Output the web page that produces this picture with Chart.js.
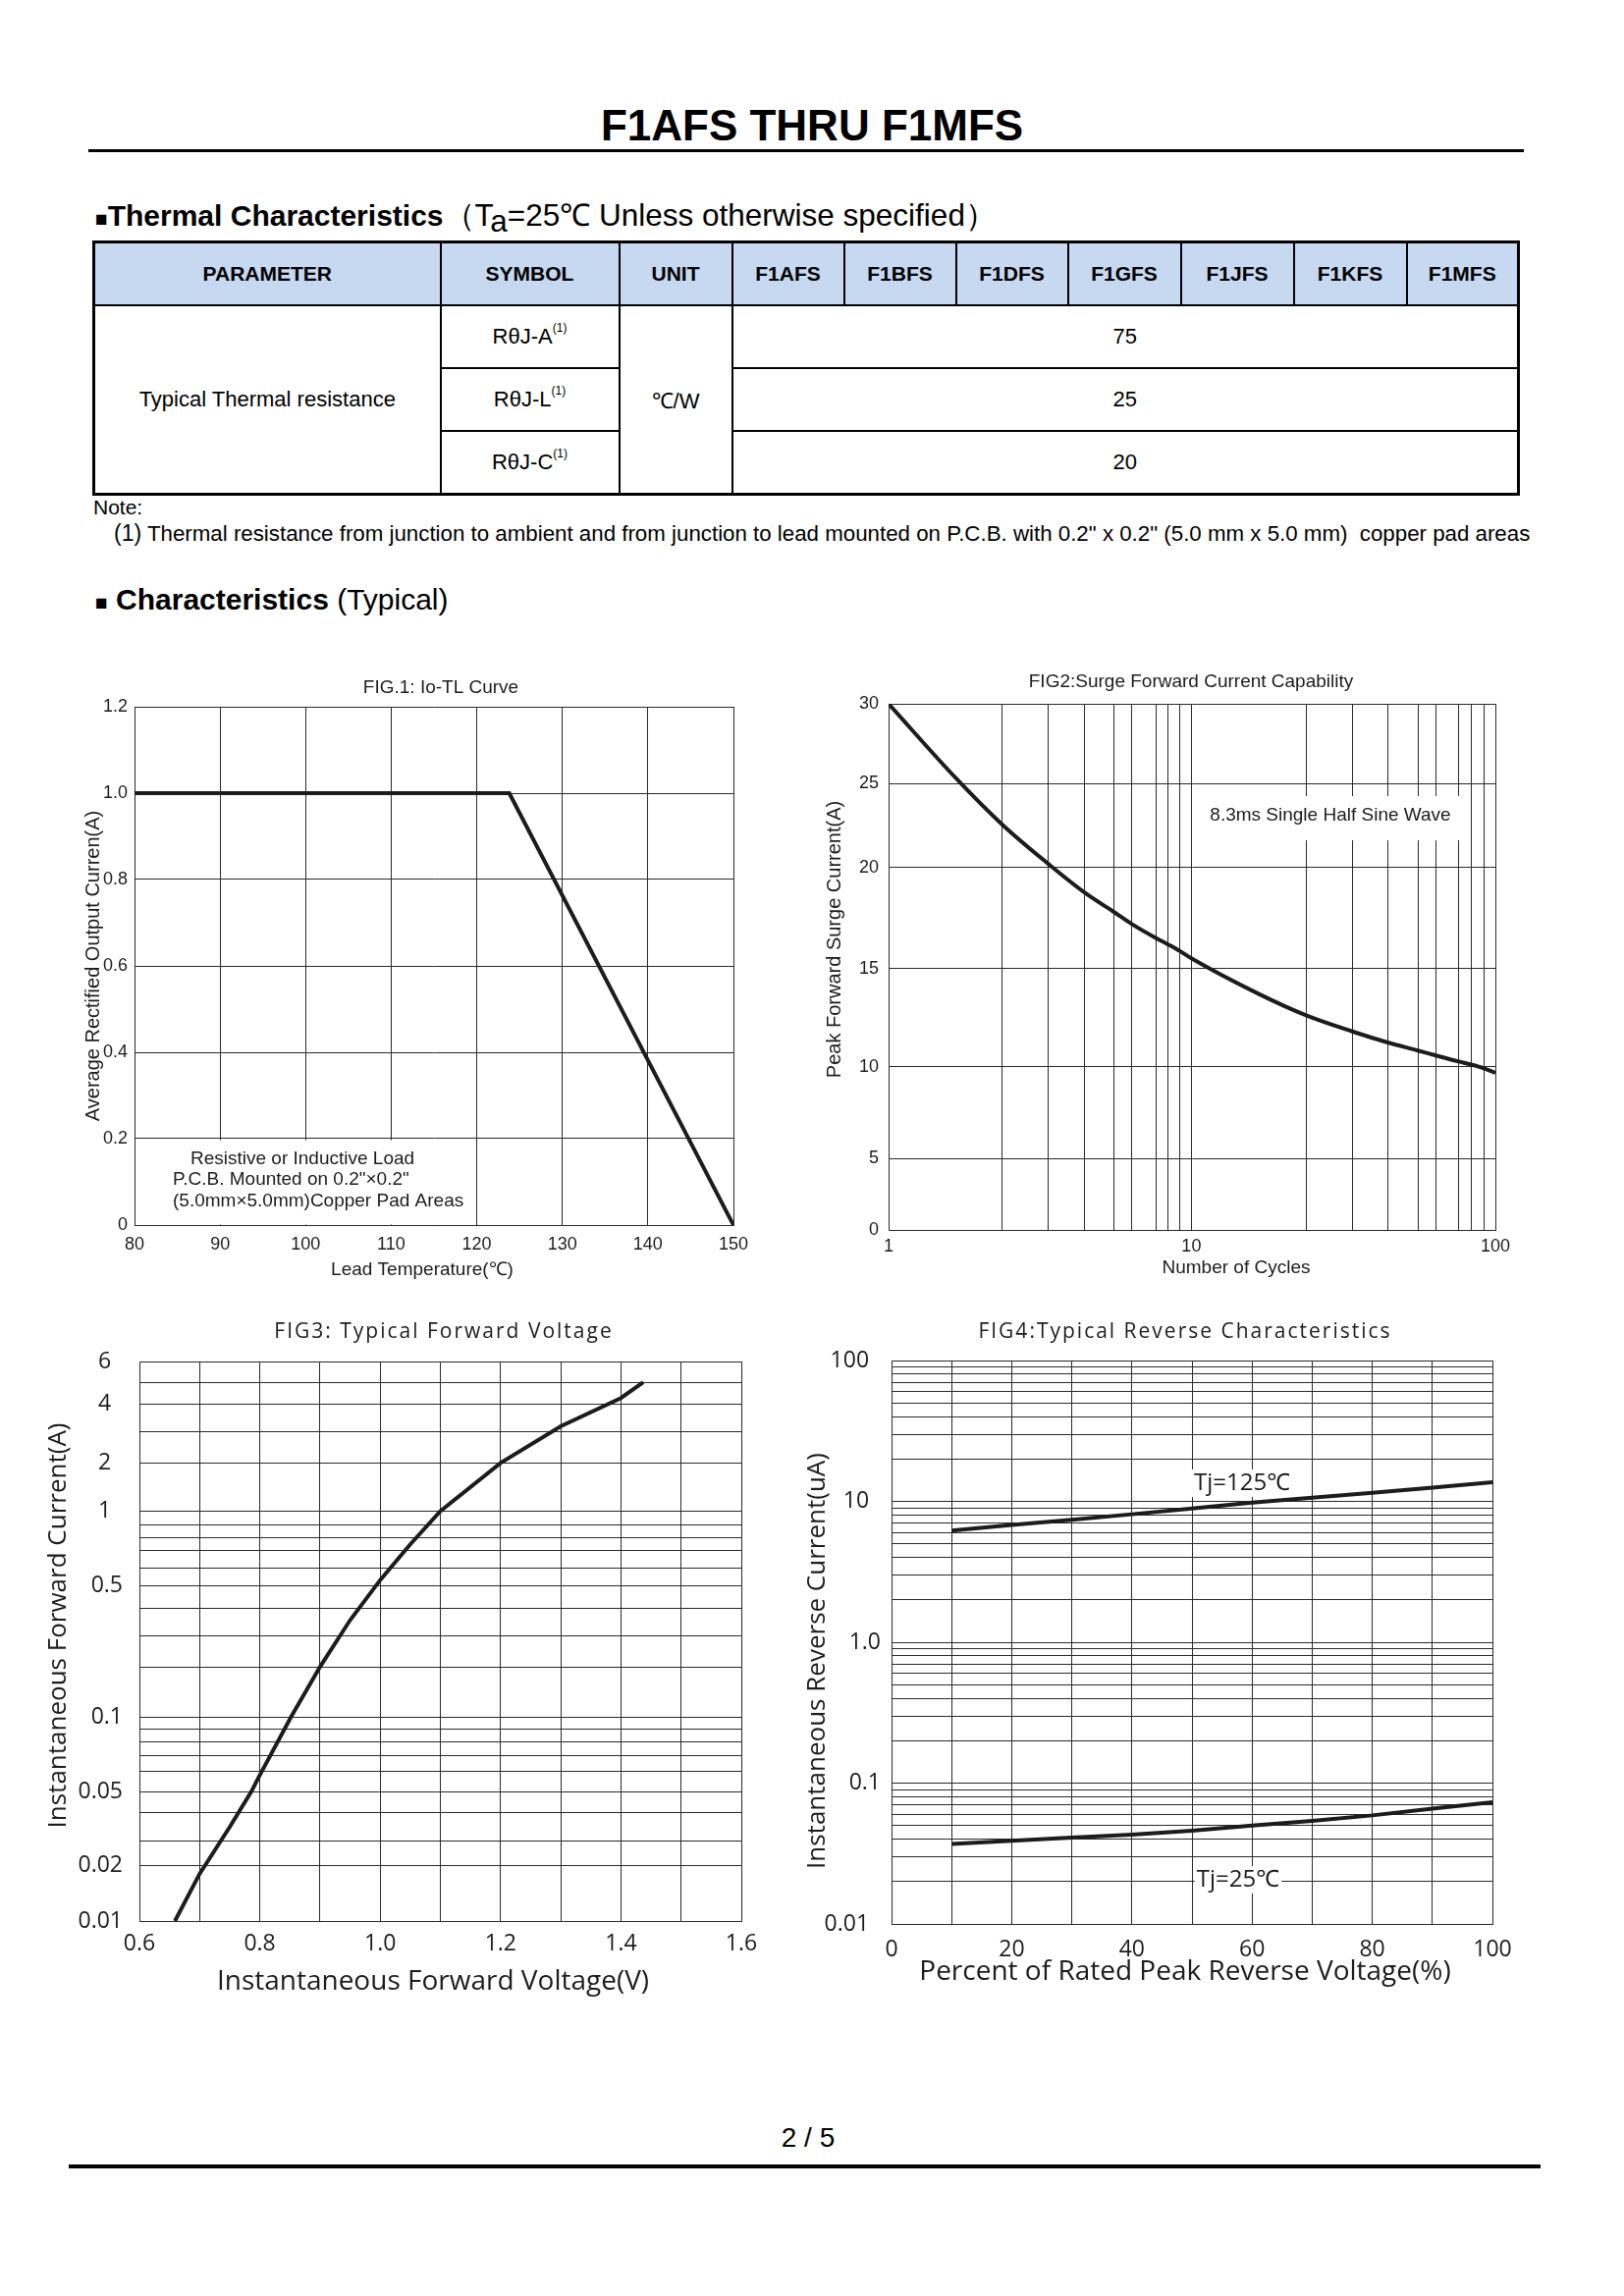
<!DOCTYPE html>
<html>
<head>
<meta charset="utf-8">
<script src="https://cdn.jsdelivr.net/npm/chart.js@4.4.1/dist/chart.umd.min.js"></script>
<style>
  body { margin: 0; width: 1654px; height: 2339px; position: relative; background: #fff; color: #000;
         font-family: "Liberation Sans", Arial, sans-serif; overflow: hidden; }
  .abs { position: absolute; white-space: nowrap; line-height: 1; }
  .rule { position: absolute; background: #000; }
  #docTitle { left: 0; width: 1654px; text-align: center; top: 106px; font-size: 44px; font-weight: bold; }
  .section { left: 97px; font-size: 30px; }
  .section b { font-weight: bold; }
  .sq { font-size: 21px; }
  table { position: absolute; left: 94px; top: 245px; width: 1451px; border-collapse: collapse;
          table-layout: fixed; border: 3px solid #000; }
  th, td { border: 2px solid #000; text-align: center; vertical-align: middle; padding: 0; font-size: 22px; }
  th { background: #c6d9f1; font-weight: bold; font-size: 21px; height: 62px; }
  td { height: 62px; }
  sup { font-size: 12px; vertical-align: top; position: relative; top: -3px; }
  canvas { position: absolute; }
</style>
</head>
<body>

<div class="abs" id="docTitle">F1AFS THRU F1MFS</div>
<div class="rule" style="left:90px; top:152px; width:1462px; height:3px"></div>

<div class="abs section" style="top:204px"><span class="sq">■</span><b>Thermal Characteristics</b><span style="font-size:31.5px">（T<span style="position:relative; top:6px">a</span>=25℃ Unless otherwise specified）</span></div>

<table>
  <colgroup>
    <col style="width:353px"><col style="width:182px"><col style="width:115px">
    <col style="width:114px"><col style="width:114px"><col style="width:114px"><col style="width:115px">
    <col style="width:115px"><col style="width:115px"><col style="width:114px">
  </colgroup>
  <tr>
    <th>PARAMETER</th><th>SYMBOL</th><th>UNIT</th>
    <th>F1AFS</th><th>F1BFS</th><th>F1DFS</th><th>F1GFS</th><th>F1JFS</th><th>F1KFS</th><th>F1MFS</th>
  </tr>
  <tr>
    <td rowspan="3">Typical Thermal resistance</td>
    <td>RθJ-A<sup>(1)</sup></td>
    <td rowspan="3">℃/W</td>
    <td colspan="7">75</td>
  </tr>
  <tr><td>RθJ-L<sup>(1)</sup></td><td colspan="7">25</td></tr>
  <tr><td>RθJ-C<sup>(1)</sup></td><td colspan="7">20</td></tr>
</table>

<div class="abs" style="left:95px; top:506px; font-size:21px">Note:</div>
<div class="abs" style="left:116px; top:532px; font-size:22.3px"><span style="font-size:23px">(1)</span> Thermal resistance from junction to ambient and from junction to lead mounted on P.C.B. with 0.2" x 0.2" (5.0 mm x 5.0 mm)&nbsp; copper pad areas</div>

<div class="abs section" style="top:596px"><span class="sq">■</span> <b>Characteristics</b> (Typical)</div>

<canvas id="fig1"></canvas>
<canvas id="fig2"></canvas>
<canvas id="fig3"></canvas>
<canvas id="fig4"></canvas>

<div class="abs" style="left:0; width:1646px; text-align:center; top:2164px; font-size:28px">2 / 5</div>
<div class="rule" style="left:70px; top:2205px; width:1499px; height:4px"></div>

<script>
// FIG.1: Io-TL curve
const fig1Temp = [80, 123.8, 150];
const fig1Current = [1.0, 1.0, 0];
const fig1XTicks = [80, 90, 100, 110, 120, 130, 140, 150];
const fig1YTicks = [0, 0.2, 0.4, 0.6, 0.8, 1.0, 1.2];

// FIG2: surge current vs cycles
const fig2Cycles = [1, 1.5, 2, 3, 4, 5, 6, 7, 8, 9, 10, 15, 20, 30, 40, 50, 60, 70, 80, 90, 100];
const fig2Surge = [30, 25.4, 22.55, 20.24, 18.76, 17.8, 17.2, 16.5, 16.2, 15.86, 15.5,
                   13.7, 12.6, 11.8, 11.24, 10.83, 10.58, 10.27, 10.12, 9.92, 9.67];
const fig2XGrid = [1, 2, 3, 4, 5, 6, 7, 8, 9, 10, 20, 30, 40, 50, 60, 70, 80, 90, 100];
const fig2XLabels = [1, 10, 100];
const fig2YTicks = [0, 5, 10, 15, 20, 25, 30];

// FIG3: forward voltage
const fig3Volt = [0.659, 0.7, 0.75, 0.786, 0.8, 0.852, 0.9, 0.95, 1.0, 1.05, 1.1, 1.2, 1.3, 1.4, 1.437];
const fig3Amp = [0.01, 0.018, 0.0346, 0.05, 0.058, 0.1, 0.2, 0.355, 0.53, 0.745, 1.0, 2.0, 3.17, 4.25, 5.0];
const fig3XGrid = [0.6, 0.7, 0.8, 0.9, 1.0, 1.1, 1.2, 1.3, 1.4, 1.5, 1.6];
const fig3XLabels = [0.6, 0.8, 1.0, 1.2, 1.4, 1.6];
const fig3YGrid = [0.01, 0.02, 0.03, 0.04, 0.05, 0.06, 0.07, 0.08, 0.09, 0.1,
                   0.2, 0.3, 0.4, 0.5, 0.6, 0.7, 0.8, 0.9, 1, 2, 3, 4, 5, 6];
const fig3YLabels = [0.01, 0.02, 0.05, 0.1, 0.5, 1, 2, 4, 6];

// FIG4: reverse characteristics
const fig4Pct = [10, 20, 30, 40, 50, 60, 70, 80, 90, 100];
const fig4Tj125 = [6.2, 6.8, 7.4, 8.1, 8.9, 9.8, 10.6, 11.5, 12.5, 13.7];
const fig4Tj25 = [0.037, 0.039, 0.041, 0.043, 0.046, 0.05, 0.054, 0.059, 0.066, 0.073];
const fig4XGrid = [0, 10, 20, 30, 40, 50, 60, 70, 80, 90, 100];
const fig4XLabels = [0, 20, 40, 60, 80, 100];
const fig4YGrid = [0.01, 0.02, 0.03, 0.04, 0.05, 0.06, 0.07, 0.08, 0.09,
                   0.1, 0.2, 0.3, 0.4, 0.5, 0.6, 0.7, 0.8, 0.9,
                   1, 2, 3, 4, 5, 6, 7, 8, 9,
                   10, 20, 30, 40, 50, 60, 70, 80, 90, 100];
const fig4YLabels = { 100: '100  ', 10: '10  ', 1: '1.0', 0.1: '0.1', 0.01: '0.01  ' };

const ARIAL = '"Liberation Sans", Arial, sans-serif';
const OPEN = '"Open Sans", "Noto Sans", sans-serif';
const ink = '#1c1c1c';
const gridInk = '#2a2a2a';

// the printed grids are not evenly spaced, so these scales follow the paper:
// [value, fraction of axis length from the low end]
const fig2XBreaks = [[1, 0], [2, 0.1876], [3, 0.2623], [4, 0.3228], [5, 0.3712], [6, 0.4008],
  [7, 0.4412], [8, 0.46], [9, 0.4802], [10, 0.499], [20, 0.6893], [30, 0.764], [40, 0.8225],
  [50, 0.8722], [60, 0.9018], [70, 0.9395], [80, 0.9597], [90, 0.9812], [100, 1]];
const fig2YBreaks = [[0, 0], [5, 0.136], [10, 0.31], [15, 0.497], [20, 0.689], [25, 0.848], [30, 1]];
const fig3YBreaks = [[0.01, 0], [0.02, 0.0995], [0.03, 0.1435], [0.04, 0.193], [0.05, 0.2315],
  [0.06, 0.2674], [0.07, 0.2959], [0.08, 0.3209], [0.09, 0.3433], [0.1, 0.3649], [0.2, 0.4543],
  [0.3, 0.5091], [0.4, 0.5579], [0.5, 0.5992], [0.6, 0.631], [0.7, 0.6628], [0.8, 0.6852],
  [0.9, 0.7075], [1, 0.7326], [2, 0.8186], [3, 0.8747], [4, 0.9242], [5, 0.9628], [6, 1]];

class PiecewiseScale extends Chart.LinearScale {
  static id = 'piecewise';
  static defaults = Chart.LinearScale.defaults;

  _toDecimal(v) {
    const br = this.options.breaks;
    const f = this.options.logInterp ? Math.log10 : (x) => x;
    if (v <= br[0][0]) return br[0][1];
    for (let i = 1; i < br.length; i++) {
      if (v <= br[i][0]) {
        const a = br[i - 1], b = br[i];
        return a[1] + (f(v) - f(a[0])) / (f(b[0]) - f(a[0])) * (b[1] - a[1]);
      }
    }
    return br[br.length - 1][1];
  }
  getPixelForValue(value) {
    if (value === null || isNaN(value)) return NaN;
    return this.getPixelForDecimal(this._toDecimal(value));
  }
  getValueForPixel(pixel) {
    const d = this.getDecimalForPixel(pixel);
    const br = this.options.breaks;
    for (let i = 1; i < br.length; i++) {
      if (d <= br[i][1]) {
        const a = br[i - 1], b = br[i];
        const t = (d - a[1]) / (b[1] - a[1]);
        return this.options.logInterp
          ? Math.pow(10, Math.log10(a[0]) + t * (Math.log10(b[0]) - Math.log10(a[0])))
          : a[0] + t * (b[0] - a[0]);
      }
    }
    return br[br.length - 1][0];
  }
}
Chart.register(PiecewiseScale);

// text placed in page coordinates, drawn onto the chart's canvas.
// items with a white backing are drawn under the curves (they hide the grid like the print does)
function pageText(box, items) {
  function draw(chart, list) {
    const ctx = chart.ctx;
    list.forEach(t => {
      ctx.save();
      ctx.font = t.font;
      ctx.textAlign = t.align || 'center';
      ctx.textBaseline = 'middle';
      if (t.spacing) ctx.letterSpacing = t.spacing;
      const x = t.x - box.x, y = t.y - box.y;
      if (t.bg) {
        ctx.fillStyle = '#fff';
        ctx.fillRect(t.bg[0] - box.x, t.bg[1] - box.y, t.bg[2] - t.bg[0], t.bg[3] - t.bg[1]);
      }
      if (t.pad) {
        const w = ctx.measureText(t.text).width;
        ctx.fillStyle = '#fff';
        ctx.fillRect(x - w / 2 - t.pad, y - 14, w + 2 * t.pad, 28);
      }
      ctx.fillStyle = ink;
      ctx.translate(x, y);
      if (t.rotate) ctx.rotate(-Math.PI / 2);
      ctx.fillText(t.text, 0, 0);
      ctx.restore();
    });
  }
  return {
    id: 'pageText',
    beforeDatasetsDraw(chart) { draw(chart, items.filter(t => t.bg || t.pad)); },
    afterDraw(chart) { draw(chart, items.filter(t => !(t.bg || t.pad))); }
  };
}

function ticksFrom(values) {
  return s => { s.ticks = values.map(v => ({ value: v })); };
}

function axis(type, min, max, grid, labelFn, font, pad, extra) {
  return Object.assign({
    type, min, max,
    afterBuildTicks: ticksFrom(grid),
    grid: { color: gridInk, lineWidth: 1, drawTicks: false },
    border: { display: true, color: gridInk, width: 1 },
    ticks: { autoSkip: false, maxRotation: 0, padding: pad, color: ink, font, callback: labelFn }
  }, extra || {});
}

function line(xs, ys, extra) {
  return Object.assign({
    data: xs.map((x, i) => ({ x, y: ys[i] })),
    borderColor: ink, borderWidth: 4, pointRadius: 0, tension: 0, fill: false
  }, extra || {});
}

function makeChart(id, plot, xScale, yScale, datasets, texts) {
  const box = { x: plot.l - 100, y: plot.t - 45, w: plot.r - plot.l + 140, h: plot.b - plot.t + 130 };
  const cv = document.getElementById(id);
  cv.width = box.w;
  cv.height = box.h;
  cv.style.left = box.x + 'px';
  cv.style.top = box.y + 'px';
  xScale.afterFit = s => { s.height = 40; };
  yScale.afterFit = s => { s.width = 80; };
  return new Chart(cv, {
    type: 'line',
    data: { datasets },
    options: {
      responsive: false,
      animation: false,
      events: [],
      layout: { autoPadding: false, padding: { left: 20, top: 45, right: 40, bottom: 45 } },
      scales: { x: xScale, y: yScale },
      plugins: { legend: { display: false }, tooltip: { enabled: false }, title: { display: false } }
    },
    plugins: [pageText(box, texts)]
  });
}

const f18 = { family: ARIAL, size: 18 };
const o23 = { family: OPEN, size: 23 };

// FIG.1
makeChart('fig1', { l: 137, t: 720, r: 747, b: 1248 },
  axis('linear', 80, 150, fig1XTicks, v => String(v), f18, 9),
  axis('linear', 0, 1.2, fig1YTicks, v => (v === 0 ? '0' : v.toFixed(1)), f18, 7),
  [line(fig1Temp, fig1Current)],
  [
    { text: 'FIG.1: Io-TL Curve', x: 449, y: 701, font: '19px ' + ARIAL },
    { text: 'Average Rectified Output Curren(A)', x: 95, y: 984, font: '20px ' + ARIAL, rotate: true },
    { text: 'Lead Temperature(℃)', x: 430, y: 1294, font: '19px ' + ARIAL },
    { text: 'Resistive or Inductive Load', x: 194, y: 1181, font: '19px ' + ARIAL, align: 'left',
      bg: [138.5, 1161.5, 478, 1247.5] },
    { text: 'P.C.B. Mounted on 0.2"×0.2"', x: 176, y: 1202, font: '19px ' + ARIAL, align: 'left' },
    { text: '(5.0mm×5.0mm)Copper Pad Areas', x: 176, y: 1224, font: '19px ' + ARIAL, align: 'left' }
  ]);

// FIG2
makeChart('fig2', { l: 905, t: 717, r: 1523, b: 1253 },
  axis('piecewise', 1, 100, fig2XGrid, v => (fig2XLabels.includes(v) ? String(v) : ''), f18, 6,
    { breaks: fig2XBreaks, logInterp: true }),
  axis('piecewise', 0, 30, fig2YTicks, v => String(v), f18, 10, { breaks: fig2YBreaks }),
  [line(fig2Cycles, fig2Surge, { cubicInterpolationMode: 'monotone' })],
  [
    { text: 'FIG2:Surge Forward Current Capability', x: 1213, y: 695, font: '19px ' + ARIAL },
    { text: 'Peak Forward Surge Current(A)', x: 850, y: 957, font: '20px ' + ARIAL, rotate: true },
    { text: 'Number of Cycles', x: 1259, y: 1292, font: '19px ' + ARIAL },
    { text: '8.3ms Single Half Sine Wave', x: 1355, y: 831, font: '19px ' + ARIAL, bg: [1222, 811, 1495, 856] }
  ]);

// FIG3
makeChart('fig3', { l: 142, t: 1387, r: 755, b: 1957 },
  axis('linear', 0.6, 1.6, fig3XGrid, v => (fig3XLabels.includes(v) ? v.toFixed(1) : ''), o23, 10),
  axis('piecewise', 0.01, 6, fig3YGrid,
    v => (fig3YLabels.includes(v) ? (v >= 1 ? v + '  ' : String(v)) : ''), o23, 17,
    { breaks: fig3YBreaks, logInterp: true }),
  [line(fig3Volt, fig3Amp)],
  [
    { text: 'FIG3: Typical Forward Voltage', x: 452, y: 1357, font: '21px ' + OPEN, spacing: '2px' },
    { text: 'Instantaneous Forward Current(A)', x: 60, y: 1656, font: '26px ' + OPEN, rotate: true },
    { text: 'Instantaneous Forward Voltage(V)', x: 441, y: 2019, font: '28px ' + OPEN }
  ]);

// FIG4
makeChart('fig4', { l: 908, t: 1386, r: 1520, b: 1960 },
  axis('linear', 0, 100, fig4XGrid, v => (fig4XLabels.includes(v) ? String(v) : ''), o23, 13),
  axis('logarithmic', 0.01, 100, fig4YGrid, v => fig4YLabels[v] || '', o23, 11),
  [line(fig4Pct, fig4Tj125), line(fig4Pct, fig4Tj25)],
  [
    { text: 'FIG4:Typical Reverse Characteristics', x: 1207, y: 1357, font: '21px ' + OPEN, spacing: '2px' },
    { text: 'Instantaneous Reverse Current(uA)', x: 833, y: 1692, font: '26px ' + OPEN, rotate: true },
    { text: 'Percent of Rated Peak Reverse Voltage(%)', x: 1207, y: 2009, font: '28px ' + OPEN },
    { text: 'Tj=125℃', x: 1265, y: 1511, font: '24px ' + OPEN, pad: 2 },
    { text: 'Tj=25℃', x: 1261, y: 1915, font: '24px ' + OPEN, pad: 2 }
  ]);
</script>
</body>
</html>
